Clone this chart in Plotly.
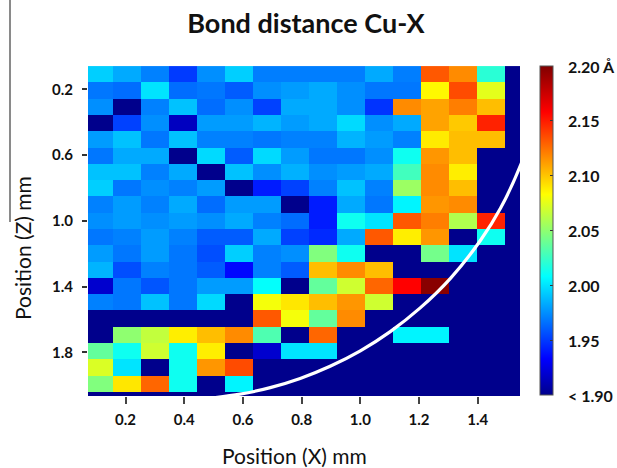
import plotly.graph_objects as go

# ---------------- data ----------------
x_mm = [0.110, 0.205, 0.301, 0.396, 0.492, 0.587, 0.683, 0.778,
        0.874, 0.969, 1.065, 1.160, 1.256, 1.351, 1.447, 1.542]
z_mm = [0.108, 0.207, 0.306, 0.405, 0.504, 0.603, 0.702, 0.801, 0.900, 0.999,
        1.099, 1.198, 1.297, 1.396, 1.495, 1.594, 1.693, 1.792, 1.891, 1.990, 2.089]

N = 1.88  # below 1.90 (shown as "< 1.90")
bond_distance = [
    [1.994, 1.983, 1.971, 1.950, 1.975, 1.994, 1.970, 1.970, 1.970, 1.970, 1.983, 1.970, 2.132, 2.117, 2.020, N],
    [1.968, 1.965, 2.000, 1.965, 1.968, 1.960, 1.975, 1.979, 1.983, 1.975, 1.968, 1.968, 2.085, 2.136, 2.075, N],
    [1.975, 1.890, 1.971, 1.990, 1.965, 1.975, 1.952, 1.983, 1.983, 1.975, 1.948, 2.117, 2.110, 2.121, 2.102, N],
    [N,     1.952, 1.975, 1.915, 1.979, 1.979, 1.986, 1.979, 1.983, 1.997, 1.975, 1.983, 2.110, 2.099, 2.148, N],
    [1.979, 1.990, 1.968, 1.990, 1.971, 1.971, 1.968, 1.971, 1.971, 1.986, 1.979, 1.971, 2.089, 2.102, 2.102, N],
    [1.968, 1.983, 1.983, N,     1.997, 1.960, 1.997, 1.979, 1.968, 1.968, 1.975, 2.012, 2.114, 2.102, N,     N],
    [1.990, 1.990, 1.971, 1.983, N,     1.990, 1.975, 1.985, 1.975, 1.979, 1.983, 2.027, 2.117, 2.088, N,     N],
    [1.994, 1.968, 1.975, 1.971, 1.979, N,     1.941, 1.952, 1.971, 1.990, 1.971, 2.054, 2.117, 2.102, N,     N],
    [1.971, 1.979, 1.971, 1.983, 1.965, 1.979, 1.979, N,     1.941, 1.983, 1.968, 2.005, 2.114, 2.117, N,     N],
    [1.975, 1.979, 1.975, 1.979, 1.975, 1.983, 1.971, 1.965, 1.941, 2.012, 2.000, 2.132, 2.121, 2.060, 2.148, N],
    [1.968, 1.971, 1.979, 1.971, 1.960, 1.960, 1.983, 1.952, 1.945, 1.983, 2.132, 2.088, 2.114, N,     2.012, N],
    [1.979, 1.968, 1.979, 1.968, 1.956, 1.994, 1.971, 1.975, 2.046, 2.012, N,     N,     2.042, 2.000, N,     N],
    [1.986, 1.956, 1.971, 1.968, 1.960, 1.935, 1.971, 1.960, 2.102, 2.117, 2.102, N,     N,     N,     N,     N],
    [1.919, 1.968, 1.958, 1.968, 1.979, 1.979, 2.009, N,     2.037, 2.069, 2.128, 2.158, 2.197, N,     N,     N],
    [1.971, 1.968, 1.990, 1.968, 1.997, N,     2.080, 2.090, 2.102, 2.114, 2.069, N,     N,     N,     N,     N],
    [N,     N,     N,     N,     N,     N,     2.132, 2.080, 2.037, 2.117, N,     N,     N,     N,     N,     N],
    [N,     2.050, 2.065, 2.088, 2.102, 2.117, 2.031, N,     2.128, N,     N,     2.005, 2.005, N,     N,     N],
    [2.037, 2.012, 2.069, 2.012, 2.088, N,     1.919, 2.000, 2.000, N,     N,     N,     N,     N,     N,     N],
    [2.072, 2.000, N,     2.012, 2.114, 2.136, N,     N,     N,     N,     N,     N,     N,     N,     N,     N],
    [2.046, 2.090, 2.128, 2.012, N,     2.005, N,     N,     N,     N,     N,     N,     N,     N,     N,     N],
    [N,     N,     N,     N,     N,     N,     N,     N,     N,     N,     N,     N,     N,     N,     N,     N],
]

# white boundary curve (mm)
curve_x = [0.505, 0.590, 0.693, 0.795, 0.897, 1.000, 1.102, 1.204, 1.307, 1.409, 1.478, 1.546, 1.580]
curve_z = [2.076, 2.055, 2.015, 1.959, 1.885, 1.791, 1.674, 1.530, 1.350, 1.120, 0.922, 0.661, 0.482]

x_ticks = [0.2, 0.4, 0.6, 0.8, 1.0, 1.2, 1.4]
z_ticks = [0.2, 0.6, 1.0, 1.4, 1.8]
cb_ticks = [1.90, 1.95, 2.00, 2.05, 2.10, 2.15, 2.20]
cb_ticktext = ["&lt; 1.90", "1.95", "2.00", "2.05", "2.10", "2.15", "2.20 Å"]
ZMIN, ZMAX = 1.90, 2.20

# MATLAB-like jet
jet = [
    [0.0, "rgb(0,0,140)"],
    [0.11, "rgb(0,0,255)"],
    [0.36, "rgb(0,255,255)"],
    [0.61, "rgb(255,255,0)"],
    [0.86, "rgb(255,0,0)"],
    [1.0, "rgb(128,0,0)"],
]

W, H = 617, 468
L, R, T, B = 88, 97, 66, 72
plot_w = W - L - R
plot_h = H - T - B

def px_to_paper_x(px):
    return (px - L) / plot_w

def px_to_paper_y(py):
    return (H - B - py) / plot_h

CB_TOP, CB_LEN = 66.0, 329.0
cb_y0 = px_to_paper_y(CB_TOP + CB_LEN)   # paper y of ZMIN
cb_y1 = px_to_paper_y(CB_TOP)            # paper y of ZMAX

fig = go.Figure()
fig.add_trace(go.Heatmap(
    x=x_mm, y=z_mm, z=bond_distance,
    zmin=ZMIN, zmax=ZMAX, colorscale=jet,
    showscale=True,
    colorbar=dict(
        thickness=13, thicknessmode="pixels",
        len=CB_LEN, lenmode="pixels",
        x=px_to_paper_x(539.5), xanchor="left", xpad=0,
        y=(cb_y0 + cb_y1) / 2, yanchor="middle", ypad=0,
        outlinewidth=1, outlinecolor="#555555",
        tickvals=cb_ticks, showticklabels=False,
        ticks="inside", ticklen=3, tickcolor="#333333",
    ),
    hoverinfo="skip",
))
fig.add_trace(go.Scatter(
    x=curve_x, y=curve_z, mode="lines",
    line=dict(color="white", width=3.2, shape="spline"),
    hoverinfo="skip", showlegend=False,
))

fig.update_xaxes(
    range=[0.072, 1.544], tickvals=x_ticks, ticktext=[f"{v:.1f}" for v in x_ticks],
    ticks="outside", ticklen=7, tickwidth=1.5, tickcolor="#444444",
    ticklabelstandoff=3,
    tickfont=dict(family="Lato", size=15, color="#111111", weight="bold"),
    showgrid=False, zeroline=False, showline=False,
)
fig.update_yaxes(
    range=[2.066, 0.058], tickvals=z_ticks, ticktext=[f"{v:.1f}" for v in z_ticks],
    ticks="outside", ticklen=5, tickwidth=1.5, tickcolor="#333333",
    ticklabelstandoff=6,
    tickfont=dict(family="Lato", size=15, color="#111111", weight="bold"),
    showgrid=False, zeroline=False, showline=False,
)

annotations = [
    dict(text="Position (X) mm", xref="paper", yref="paper",
         x=px_to_paper_x(294), y=px_to_paper_y(455), xanchor="center", yanchor="middle",
         showarrow=False, font=dict(family="Lato", size=21, color="#111111")),
    dict(text="Position (Z) mm", xref="paper", yref="paper", textangle=-90,
         x=px_to_paper_x(22), y=px_to_paper_y(248), xanchor="center", yanchor="middle",
         showarrow=False, font=dict(family="Lato", size=21, color="#111111")),
]
for v, t in zip(cb_ticks, cb_ticktext):
    frac = (v - ZMIN) / (ZMAX - ZMIN)
    annotations.append(dict(
        text=f"<b>{t}</b>", xref="paper", yref="paper",
        x=px_to_paper_x(566), y=cb_y0 + frac * (cb_y1 - cb_y0),
        xanchor="left", yanchor="middle", showarrow=False,
        font=dict(family="Lato", size=16, color="#111111"),
    ))

fig.update_layout(
    width=W, height=H,
    margin=dict(l=L, r=R, t=T, b=B),
    paper_bgcolor="white", plot_bgcolor="white",
    showlegend=False,
    title=dict(text="<b>Bond distance Cu-X</b>", x=306 / W, xanchor="center",
               y=1 - 24 / H, yanchor="middle", xref="container", yref="container",
               font=dict(family="Lato", size=27, color="#111111")),
    annotations=annotations,
    shapes=[
        dict(type="line", xref="paper", yref="paper",
             x0=px_to_paper_x(10), x1=px_to_paper_x(10),
             y0=px_to_paper_y(0), y1=px_to_paper_y(222),
             line=dict(color="#8a8a8a", width=2)),
    ],
)

fig.write_html("out.html")
